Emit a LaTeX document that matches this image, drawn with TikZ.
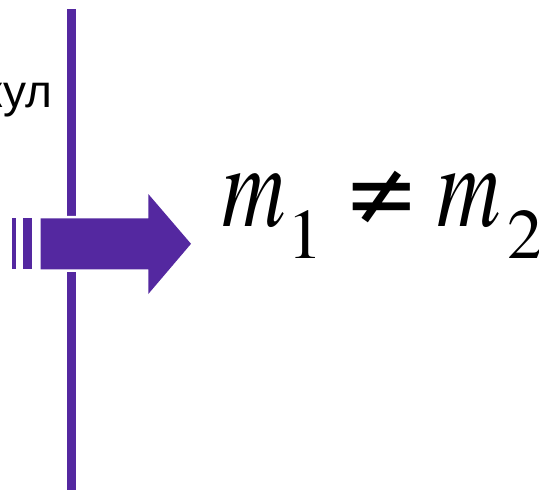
\documentclass[tikz,border=0pt]{standalone}
\usepackage{fontspec}
\newfontfamily\timesf{TeX Gyre Termes}
\newfontfamily\arialfont{Liberation Sans}
\definecolor{vio}{RGB}{84,40,160}
\tikzset{
  txt/.style={inner sep=0pt, outer sep=0pt, anchor=base west},
  mainf/.style={font=\timesf\fontsize{120}{120}\selectfont\itshape},
  subf/.style={font=\timesf\fontsize{71}{71}\selectfont},
}
\begin{document}
\begin{tikzpicture}[x=1pt,y=-1pt]
\useasboundingbox (0,0) rectangle (539,490);
\coordinate (ltop) at (71.7,9.3);
\coordinate (lbot) at (71.7,492);
\draw[vio, line width=8.7pt] (ltop) -- (lbot);
\fill[vio, line join=round, preaction={draw=white, line width=5pt}]
  (40.7,218.3) -- (148.3,218.3) -- (148.3,194) -- (191,243.8) -- (148.3,294) -- (148.3,269.3) -- (40.7,269.3) -- cycle;
\fill[vio] (12.3,218.3) rectangle (15.7,269.3);
\fill[vio] (23.3,218.3) rectangle (32.3,269.3);
\node[txt, anchor=base east, font=\arialfont\fontsize{46}{46}\selectfont] (lbl) at (52,107.3) {кул};
\node[txt, mainf] (m1) at (222,226) {\scalebox{0.73}[1]{m}};
\node[txt, subf] (s1) at (287,258) {1};
\node[txt, font=\timesf\fontsize{118}{118}\selectfont] (ne) at (348,226) {≠};
\node[txt, mainf] (m2) at (437,226) {\scalebox{0.73}[1]{m}};
\node[txt, subf] (s2) at (507,258) {2};
\end{tikzpicture}
\end{document}
